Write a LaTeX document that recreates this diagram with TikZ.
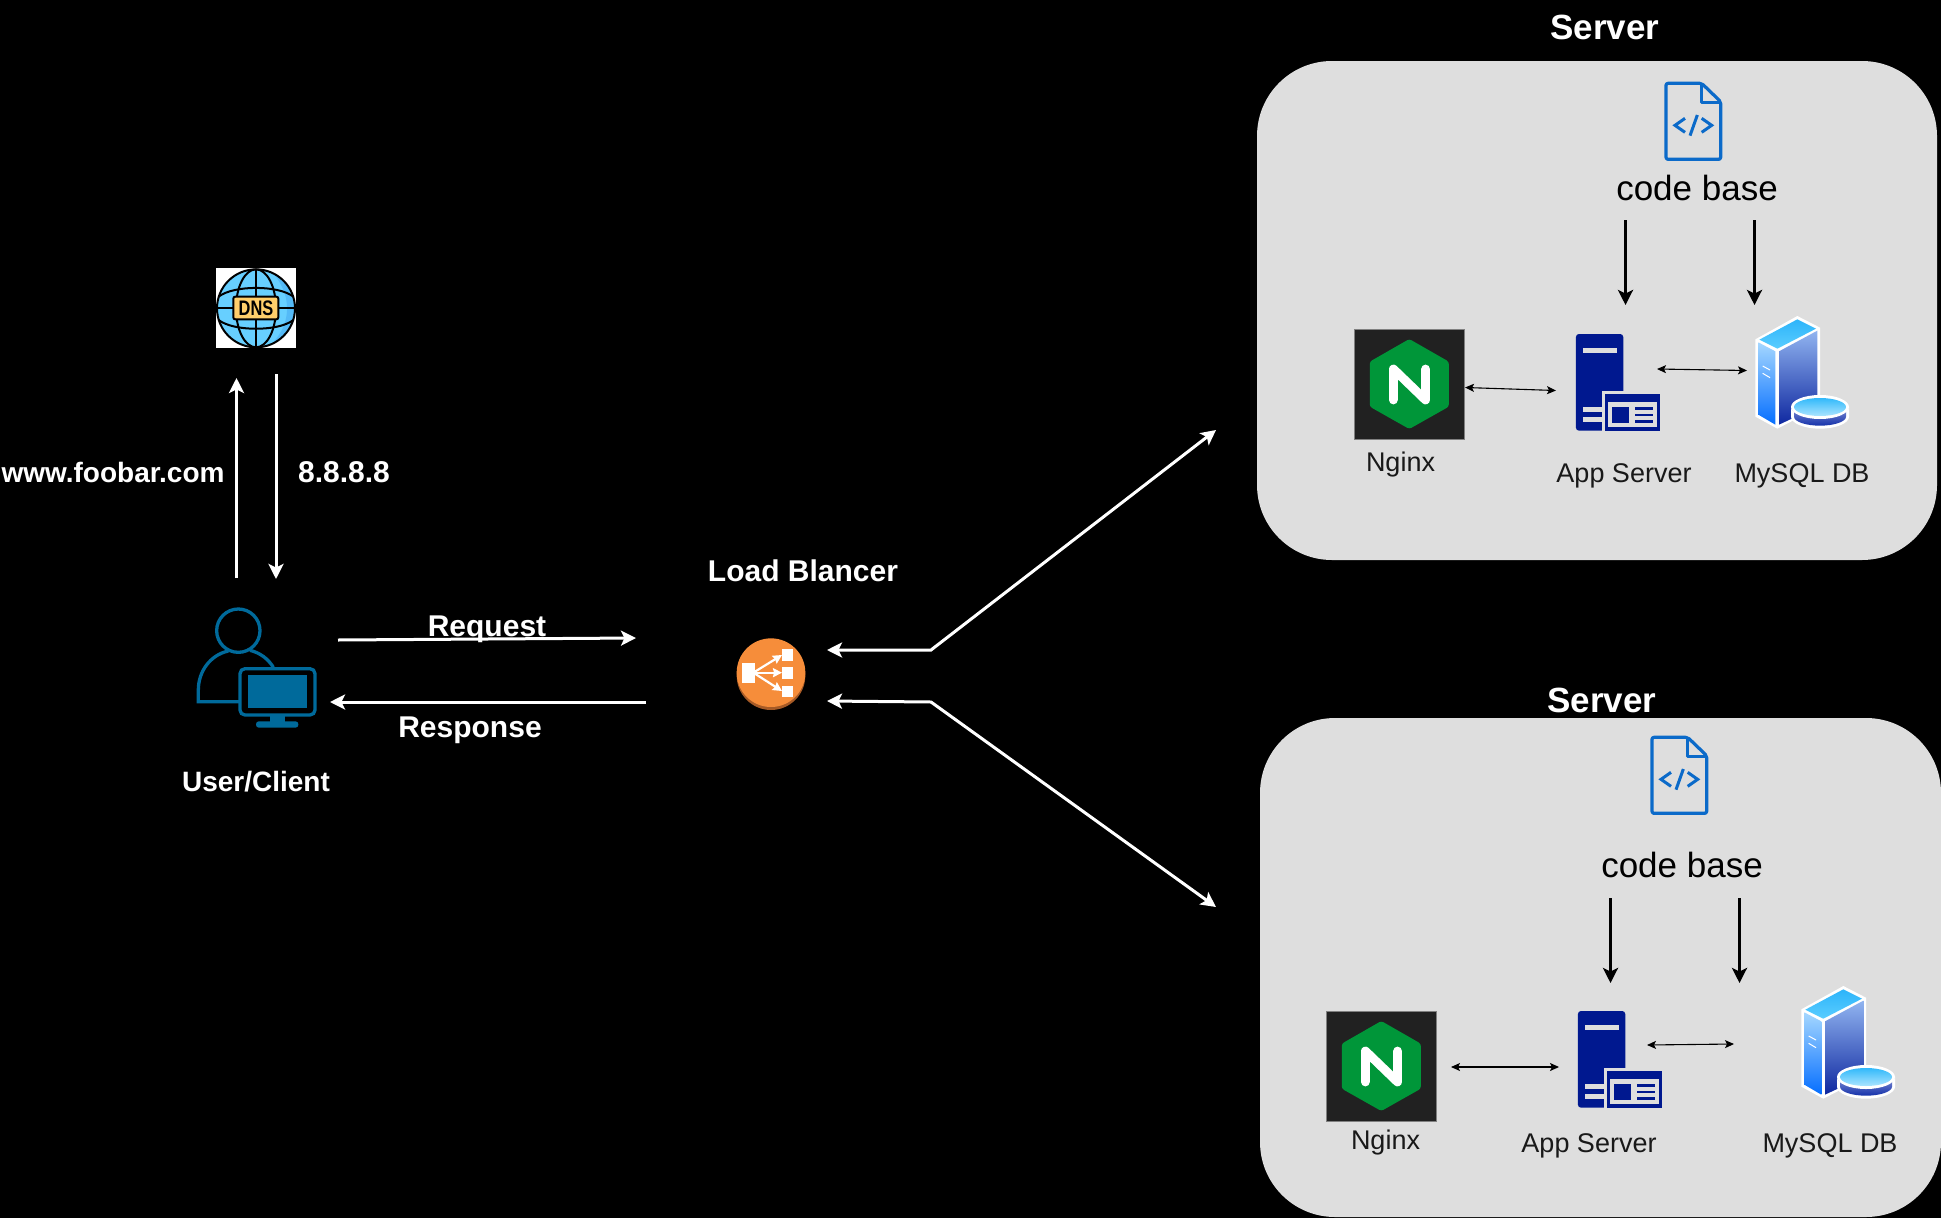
\documentclass[tikz,border=0pt]{standalone}
\usepackage{fontspec}
\setmainfont{Liberation Sans}
\usetikzlibrary{arrows.meta}
\definecolor{panel}{HTML}{DEDEDE}
\definecolor{clientblue}{HTML}{006A9B}
\definecolor{codeblue}{HTML}{0B6AC9}
\definecolor{appblue}{HTML}{00188F}
\definecolor{lborange}{HTML}{F68D3A}
\definecolor{lbshadow}{HTML}{A65A26}
\definecolor{ngreen}{HTML}{009639}
\definecolor{ndark}{HTML}{212121}
\tikzset{
  panelbox/.style={fill=panel,draw=none,rounded corners=75pt},
  whitearrow/.style={draw=white,line width=3pt,-{Stealth[length=15pt,width=15pt,inset=3.5pt]}},
  whitedouble/.style={draw=white,line width=3pt,{Stealth[length=15pt,width=15pt,inset=3.5pt]}-{Stealth[length=15pt,width=15pt,inset=3.5pt]}},
  blackarrow/.style={draw=black,line width=3pt,-{Stealth[length=15pt,width=15pt,inset=3.5pt]}},
  thindouble/.style={draw=black,line width=1.1pt,{Stealth[length=9pt,width=8pt,inset=2pt]}-{Stealth[length=9pt,width=8pt,inset=2pt]}},
  lightlabel/.style={text=white,font=\bfseries\fontsize{30}{34}\selectfont,inner sep=0pt},
  titlelabel/.style={text=white,font=\bfseries\fontsize{35}{40}\selectfont,inner sep=0pt},
  codelabel/.style={text=black,font=\fontsize{35}{40}\selectfont,inner sep=0pt},
  partlabel/.style={text=black!90,font=\fontsize{27}{32}\selectfont,inner sep=0pt},
  zoomscale/.style={xscale=.338,yscale=1/3},
  dnsicon/.pic={
    \fill[white] (168,84) rectangle (408,324);
    \fill[fill={rgb,255:red,103;green,207;blue,255}] (288,205) circle (117);
    \begin{scope}
      \clip (288,205) circle (117);
      \fill[fill={rgb,255:red,84;green,186;blue,247}] (330,90) .. controls (400,160) and (400,260) .. (320,325) -- (420,325) -- (420,90) -- cycle;
    \end{scope}
    \draw[black,line width=2pt] (288,205) circle (117);
    \draw[black,line width=2pt] (288,205) ellipse (60 and 117);
    \draw[black,line width=2pt] (288,88) -- (288,322) (171,205) -- (405,205);
    \draw[black,line width=2pt] (176,170) .. controls (220,135) and (356,135) .. (400,170);
    \draw[black,line width=2pt] (176,240) .. controls (220,275) and (356,275) .. (400,240);
    \draw[black,line width=2pt,fill={rgb,255:red,255;green,207;blue,107},rounded corners=2pt] (220,170) rectangle (355,238);
    \node[inner sep=0pt,text=black,font=\bfseries\fontsize{21}{21}\selectfont] (dnstext) at (288,204) {\scalebox{.78}[1]{DNS}};
  },
  clienticon/.pic={
    \draw[clientblue,line width=3.3pt] (205,122) circle (65);
    \draw[clientblue,line width=3.3pt] (175,183) .. controls (120,195) and (85,245) .. (85,300) -- (85,335) -- (208,335);
    \draw[clientblue,line width=3.3pt] (240,181) .. controls (270,188) and (295,207) .. (310,232);
    \draw[clientblue,line width=3.3pt,rounded corners=5pt] (210,236) rectangle (435,375);
    \fill[clientblue] (233,255) rectangle (412,355);
    \fill[clientblue] (300,376) rectangle (345,397);
    \fill[clientblue,rounded corners=2.8pt] (258,394) rectangle (385,413);
  },
  lbicon/.pic={
    \fill[lbshadow] (183,167) circle (103);
    \fill[lborange] (183,158) circle (103);
    \fill[white] (96,128) rectangle (134,190);
    \fill[white] (216,88) rectangle (250,122);
    \fill[white] (216,142) rectangle (250,176);
    \fill[white] (216,197) rectangle (250,231);
    \draw[white,line width=2.2pt,-{Stealth[length=9pt,width=9pt,inset=1pt]}] (130,158) -- (216,105);
    \draw[white,line width=2.2pt,-{Stealth[length=9pt,width=9pt,inset=1pt]}] (130,158) -- (216,158);
    \draw[white,line width=2.2pt,-{Stealth[length=9pt,width=9pt,inset=1pt]}] (130,158) -- (216,213);
  },
  nginxicon/.pic={
    \fill[ndark,draw=gray,line width=.7pt] (42,57) rectangle (368,388);
    \fill[ngreen,rounded corners=2.5pt] (205,87) -- (322,155) -- (322,290) -- (205,357) -- (88,290) -- (88,155) -- cycle;
    \draw[white,line width=8.8pt,line cap=round,line join=round] (158,270) -- (158,177) -- (253,270) -- (253,177);
  },
  appicon/.pic={
    \fill[appblue,rounded corners=3pt] (698,362) -- (698,72) -- (838,72) -- (838,362) -- cycle;
    \fill[panel] (720,115) rectangle (818,130);
    \fill[panel] (720,292) rectangle (776,307);
    \fill[panel] (720,320) rectangle (776,335);
    \fill[panel] (776,242) rectangle (946,362);
    \fill[appblue] (785,252) rectangle (946,362);
    \fill[panel] (793,276) rectangle (938,352);
    \fill[appblue] (805,290) rectangle (855,340);
    \fill[appblue] (872,292) rectangle (925,300);
    \fill[appblue] (872,311) rectangle (925,319);
    \fill[appblue] (872,330) rectangle (925,340);
  },
  dbicon/.pic={
    \fill[white,line join=round] (172,18) -- (240,53) -- (240,290) -- (112,356) -- (46,320) -- (46,88) -- cycle;
    \shade[top color={rgb,255:red,45;green,180;blue,250},bottom color={rgb,255:red,90;green,205;blue,255}] (172,28) -- (228,56) -- (112,116) -- (58,89) -- cycle;
    \shade[top color={rgb,255:red,165;green,215;blue,255},bottom color={rgb,255:red,5;green,110;blue,255}] (55,97) -- (106,124) -- (106,344) -- (55,314) -- cycle;
    \shade[top color={rgb,255:red,145;green,180;blue,240},bottom color={rgb,255:red,15;green,40;blue,160}] (117,124) -- (232,62) -- (232,290) -- (117,344) -- cycle;
    \draw[white,line width=1pt] (68,168) -- (90,180) (68,190) -- (90,203);
    \fill[white] (153,290) -- (153,320) arc[start angle=180,end angle=0,x radius=87,y radius=36] -- (327,290) arc[start angle=0,end angle=180,x radius=87,y radius=36] -- cycle;
    \shade[top color={rgb,255:red,120;green,135;blue,210},bottom color={rgb,255:red,20;green,50;blue,170}] (162,296) -- (162,320) arc[start angle=180,end angle=0,x radius=78,y radius=27] -- (318,296) -- cycle;
    \fill[white] (240,291) ellipse (87 and 36);
    \shade[top color={rgb,255:red,50;green,185;blue,250},bottom color={rgb,255:red,170;green,228;blue,255}] (240,291) ellipse (78 and 27);
  },
  codeicon/.pic={
    \draw[codeblue,line width=3.2pt,rounded corners=2pt,line join=round] (185,40) -- (78,40) -- (78,268) -- (242,268) -- (242,95) -- cycle;
    \draw[codeblue,line width=3.2pt,line join=round] (185,40) -- (185,97) -- (242,97);
    \draw[codeblue,line width=3pt] (135,145) -- (105,166) -- (135,187);
    \draw[codeblue,line width=3pt] (172,135) -- (150,197);
    \draw[codeblue,line width=3pt] (185,145) -- (215,166) -- (185,187);
  },
}
\begin{document}
\begin{tikzpicture}[x=1pt,y=-1pt]
\useasboundingbox (0,0) rectangle (1941,1218);
\fill[black] (0,0) rectangle (1941,1218);
% panels
\fill[panelbox] (1257,61) rectangle (1937,560);
\fill[panelbox] (1260,718) rectangle (1941,1217);
% icons
\pic[scale=1/3] (dns) at (160,240) {dnsicon};
\pic[scale=1/3] (client) at (170,590) {clienticon};
\pic[scale=1/3] (lb) at (710,620) {lbicon};
\pic[scale=1/3] (code1) at (1640,70) {codeicon};
\pic[scale=1/3] (code2) at (1626,724) {codeicon};
\pic[zoomscale] (ng1) at (1340,310) {nginxicon};
\pic[zoomscale] (ng2) at (1312,992) {nginxicon};
\pic[zoomscale] (app1) at (1340,310) {appicon};
\pic[zoomscale] (app2) at (1342,987) {appicon};
\pic[scale=1/3] (db1) at (1740,310) {dbicon};
\pic[scale=1/3] (db2) at (1786,980) {dbicon};
% labels
\node[lightlabel,font=\bfseries\fontsize{28}{34}\selectfont] (lwww) at (113,472) {www.foobar.com};
\node[lightlabel] (lip) at (344,472) {8.8.8.8};
\node[lightlabel,font=\bfseries\fontsize{28}{32}\selectfont] (luser) at (256,781.5) {User/Client};
\node[lightlabel] (lreq) at (487,629.5) {Request};
\node[lightlabel] (lresp) at (470,730.5) {Response};
\node[lightlabel] (llb) at (803,571) {Load Blancer};
\node[titlelabel] (ls1) at (1605,27) {Server};
\node[titlelabel] (ls2) at (1602,700) {Server};
\node[codelabel] (lc1) at (1697,188) {code base};
\node[codelabel] (lc2) at (1682,865) {code base};
\node[partlabel] (ln1) at (1400.5,464.5) {Nginx};
\node[partlabel] (la1) at (1624,475.5) {App Server};
\node[partlabel] (lm1) at (1802,475.5) {MySQL DB};
\node[partlabel] (ln2) at (1385.5,1142.5) {Nginx};
\node[partlabel] (la2) at (1589,1145.5) {App Server};
\node[partlabel] (lm2) at (1830,1145.5) {MySQL DB};
% connector ends
\coordinate (cu1) at (236.5,578); \coordinate (dn1) at (236.5,378);
\coordinate (dn2) at (276,374); \coordinate (cu2) at (276,579);
\coordinate (req1) at (338,640); \coordinate (req2) at (636,638);
\coordinate (res1) at (646,702); \coordinate (res2) at (330,702);
\coordinate (lbt) at (827,650); \coordinate (lbtm) at (931,650); \coordinate (st) at (1216,430);
\coordinate (lbb) at (827,701); \coordinate (lbbm) at (931,702); \coordinate (sb) at (1216,907);
\coordinate (a1s) at (1625.5,220); \coordinate (a1e) at (1625.5,305);
\coordinate (b1s) at (1754.5,220); \coordinate (b1e) at (1754.5,305);
\coordinate (a2s) at (1610.5,898); \coordinate (a2e) at (1610.5,983);
\coordinate (b2s) at (1739.5,898); \coordinate (b2e) at (1739.5,983);
\coordinate (na1s) at (1465,387.5); \coordinate (na1e) at (1556,390.5);
\coordinate (ad1s) at (1657,369); \coordinate (ad1e) at (1747,370.5);
\coordinate (na2s) at (1451,1067); \coordinate (na2e) at (1559,1067);
\coordinate (ad2s) at (1647,1045); \coordinate (ad2e) at (1734,1044);
% connectors
\draw[whitearrow] (cu1) -- (dn1);
\draw[whitearrow] (dn2) -- (cu2);
\draw[whitearrow] (req1) -- (req2);
\draw[whitearrow] (res1) -- (res2);
\draw[whitedouble] (lbt) -- (lbtm) -- (st);
\draw[whitedouble] (lbb) -- (lbbm) -- (sb);
\draw[blackarrow] (a1s) -- (a1e);
\draw[blackarrow] (b1s) -- (b1e);
\draw[blackarrow] (a2s) -- (a2e);
\draw[blackarrow] (b2s) -- (b2e);
\draw[thindouble] (na1s) -- (na1e);
\draw[thindouble] (ad1s) -- (ad1e);
\draw[thindouble] (na2s) -- (na2e);
\draw[thindouble] (ad2s) -- (ad2e);
\end{tikzpicture}
\end{document}
